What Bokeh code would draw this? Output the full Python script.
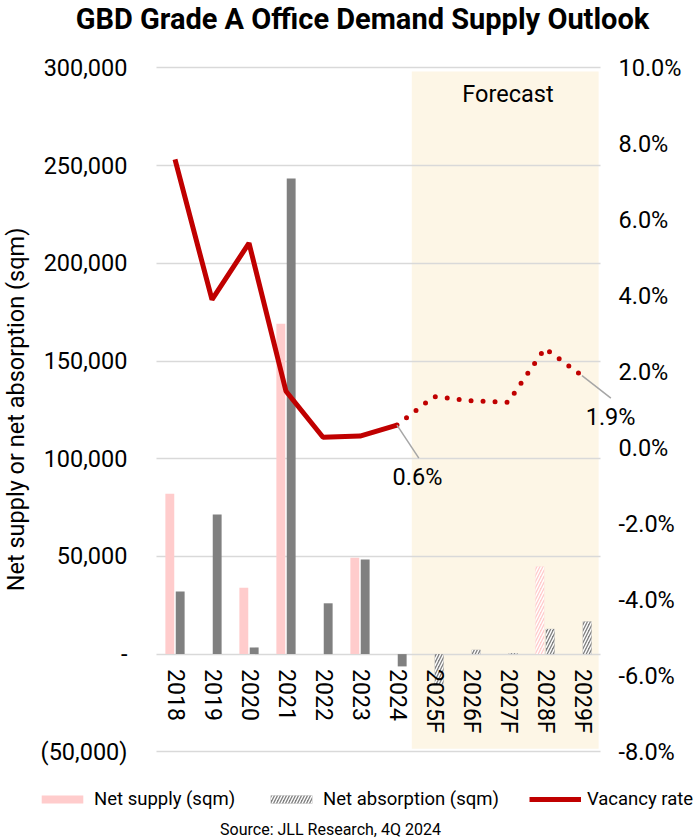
from bokeh.plotting import figure
from bokeh.models import (ColumnDataSource, Range1d, LinearAxis, FixedTicker, Grid,
                          NumeralTickFormatter, BoxAnnotation, Label, Legend, LegendItem)
from bokeh.core.properties import value
from bokeh.embed import file_html
from bokeh.resources import INLINE

# ---------------- data ----------------
categories = ["2018", "2019", "2020", "2021", "2022", "2023", "2024",
              "2025F", "2026F", "2027F", "2028F", "2029F"]
net_supply = [82000, 0, 34000, 169000, 0, 49300, 0, 0, 0, 0, 44800, 0]
net_absorption = [32000, 71400, 3400, 243400, 26000, 48400, -6300, -15500, 2200, 500, 12900, 16700]
vacancy_rate = [0.0759, 0.0390, 0.0539, 0.0149, 0.0028, 0.0031, 0.0060,
                0.0135, 0.0124, 0.0120, 0.0262, 0.0190]
forecast_start = "2025F"
left_ticks = [-50000, 0, 50000, 100000, 150000, 200000, 250000, 300000]
right_ticks = [-0.08, -0.06, -0.04, -0.02, 0.0, 0.02, 0.04, 0.06, 0.08, 0.10]
annotated = ["2024", "2029F"]
annotated_text = ["0.6%", "1.9%"]

# ---------------- layout (pixels) ----------------
W, H = 697, 839
FRAME_L = 156.0          # left edge of first category
CAT_PX = 37.0            # width of one category
TOP_PX, BOT_PX = 67.4, 751.3   # pixel rows of the top / bottom tick

FONT = "Roboto"
PINK = "#FFCCCC"
GREY = "#808080"
RED = "#C00000"

n = len(categories)
xs = [i + 0.5 for i in range(n)]
fi = categories.index(forecast_start)

lupp = (left_ticks[-1] - left_ticks[0]) / (BOT_PX - TOP_PX)
rupp = (right_ticks[-1] - right_ticks[0]) / (BOT_PX - TOP_PX)
x_range = Range1d(-FRAME_L / CAT_PX, (W - FRAME_L) / CAT_PX)
y_range = Range1d(left_ticks[0] - (H - BOT_PX) * lupp, left_ticks[-1] + TOP_PX * lupp)
y2_range = Range1d(right_ticks[0] - (H - BOT_PX) * rupp, right_ticks[-1] + TOP_PX * rupp)

off, bw = 0.14, 0.24
actual = ColumnDataSource(dict(xs=[x - off for x in xs[:fi]], xa=[x + off for x in xs[:fi]],
                               supply=net_supply[:fi], absorb=net_absorption[:fi]))
fcst = ColumnDataSource(dict(xs=[x - off for x in xs[fi:]], xa=[x + off for x in xs[fi:]],
                             supply=net_supply[fi:], absorb=net_absorption[fi:]))
line_act = ColumnDataSource(dict(x=xs[:fi], v=vacancy_rate[:fi]))
line_fc = ColumnDataSource(dict(x=xs[fi - 1:], v=vacancy_rate[fi - 1:]))

p = figure(x_range=x_range, y_range=y_range, width=W, height=H, title=None,
           output_backend="svg", toolbar_location=None,
           min_border_left=0, min_border_right=0, min_border_top=0, min_border_bottom=0)
p.outline_line_color = None
p.extra_y_ranges = {"right": y2_range}

# forecast shading
p.add_layout(BoxAnnotation(left=fi - 0.1, right=n - 0.05, top=298200, bottom=-48500,
                           fill_color="#FDF6E6", fill_alpha=1.0, line_color=None, level="image"))

# grid
p.xgrid.grid_line_color = None
p.ygrid.grid_line_color = "#D9D9D9"
p.ygrid.grid_line_width = 1.5
p.ygrid.ticker = FixedTicker(ticks=left_ticks)
if "cross_bounds" in Grid.properties():
    p.ygrid.cross_bounds = (0, n)

# bars
hatch = dict(hatch_pattern="/", hatch_color="white", hatch_scale=6, hatch_weight=1.4)
r_sup = p.vbar(x="xs", top="supply", bottom=0, width=bw, source=actual,
               fill_color=PINK, line_color=None)
p.vbar(x="xs", top="supply", bottom=0, width=bw, source=fcst,
       fill_color=PINK, line_color=None, **hatch)
p.vbar(x="xa", top="absorb", bottom=0, width=bw, source=actual,
       fill_color=GREY, line_color=None)
r_abs = p.vbar(x="xa", top="absorb", bottom=0, width=bw, source=fcst,
               fill_color=GREY, line_color=None, **hatch)

# vacancy line
r_vac = p.line(x="x", y="v", source=line_act, y_range_name="right",
               line_color=RED, line_width=5)
p.line(x="x", y="v", source=line_fc, y_range_name="right",
       line_color=RED, line_width=5, line_dash="0 12", line_cap="round")

# value call-outs
idx = [categories.index(c) for c in annotated]
ax = [xs[i] for i in idx]
ay = [vacancy_rate[i] for i in idx]
ann = ColumnDataSource(dict(x=ax, y=ay, t=annotated_text,
                            x1=[ax[0] + 0.59, ax[1] + 0.78],
                            y1=[ay[0] - 0.0087, ay[1] - 0.0059],
                            tx=[ax[0] - 0.12, ax[1] + 0.10],
                            ty=[ay[0] - 0.0138, ay[1] - 0.0110]))
p.segment(x0="x", y0="y", x1="x1", y1="y1", source=ann, y_range_name="right",
          line_color="#A6A6A6", line_width=1.5)
p.text(x="tx", y="ty", text="t", source=ann, y_range_name="right",
       text_font=value(FONT), text_font_size="23.5px", text_color="#000000",
       text_align="left", text_baseline="middle")

p.add_layout(Label(x=(fi + n) / 2, y=286400, text="Forecast",
                   text_font=FONT, text_font_size="23.5px", text_color="#000000",
                   text_align="center", text_baseline="middle"))

# x axis at zero
xa = p.xaxis[0]
xa.fixed_location = 0
xa.ticker = FixedTicker(ticks=xs)
xa.major_label_overrides = {x: c for x, c in zip(xs, categories)}
xa.axis_line_color = None
xa.major_tick_line_color = None
xa.minor_tick_line_color = None
xa.major_tick_out = 0
xa.major_label_orientation = "vertical"
xa.major_label_standoff = 15
xa.major_label_text_font = FONT
xa.major_label_text_font_size = "23px"
xa.major_label_text_color = "#000000"

# left axis
yl = p.yaxis[0]
yl.fixed_location = 0
yl.bounds = (left_ticks[0], left_ticks[-1])
yl.ticker = FixedTicker(ticks=left_ticks)
yl.formatter = NumeralTickFormatter(format="(0,0)")
yl.major_label_overrides = {0: "-"}
yl.axis_line_color = None
yl.major_tick_line_color = None
yl.minor_tick_line_color = None
yl.major_tick_out = 0
yl.major_label_standoff = 29
yl.major_label_text_font = FONT
yl.major_label_text_font_size = "23.5px"
yl.major_label_text_color = "#000000"
yl.axis_label = "Net supply or net absorption (sqm)"
yl.axis_label_text_font = FONT
yl.axis_label_text_font_size = "23.5px"
yl.axis_label_text_font_style = "normal"
yl.axis_label_text_color = "#000000"
yl.axis_label_standoff = 8

# right axis
yr_ax = LinearAxis(y_range_name="right", ticker=FixedTicker(ticks=right_ticks),
                   formatter=NumeralTickFormatter(format="0.0%"),
                   fixed_location=n, bounds=(right_ticks[0], right_ticks[-1]))
yr_ax.axis_line_color = None
yr_ax.major_tick_line_color = None
yr_ax.minor_tick_line_color = None
yr_ax.major_tick_out = 0
yr_ax.major_label_standoff = 18
yr_ax.major_label_text_font = FONT
yr_ax.major_label_text_font_size = "23.5px"
yr_ax.major_label_text_color = "#000000"
p.add_layout(yr_ax, "right")

# title
p.add_layout(Label(x=362, y=H - 18.5, x_units="screen", y_units="screen",
                   text="GBD Grade A Office Demand Supply Outlook",
                   text_font=FONT, text_font_size="29px", text_font_style="bold",
                   text_color="#000000", text_align="center", text_baseline="middle"))

# legend
legend = Legend(items=[LegendItem(label="Net supply (sqm)", renderers=[r_sup]),
                       LegendItem(label="Net absorption (sqm)", renderers=[r_abs]),
                       LegendItem(label="Vacancy rate", renderers=[r_vac])],
                orientation="horizontal", location=(36, 29),
                glyph_width=52, glyph_height=10, label_standoff=6, spacing=30,
                label_text_font=FONT, label_text_font_size="18.5px", label_text_color="#000000",
                label_height=20, padding=0, margin=0, border_line_color=None,
                background_fill_alpha=0)
p.add_layout(legend, "center")

# source
p.add_layout(Label(x=330, y=10, x_units="screen", y_units="screen",
                   text="Source: JLL Research, 4Q 2024",
                   text_font=FONT, text_font_size="16px", text_color="#000000",
                   text_align="center", text_baseline="middle"))

open("out.html", "w").write(file_html(p, INLINE))
